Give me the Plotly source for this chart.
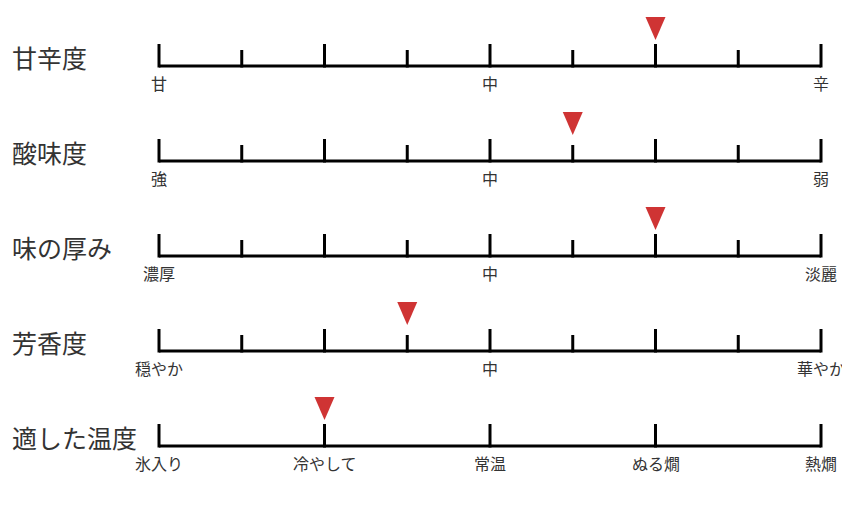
import plotly.graph_objects as go

# ---- data ----
row_titles = ["甘辛度", "酸味度", "味の厚み", "芳香度", "適した温度"]
# tick positions on a 0-8 scale
taste_ticks = [0, 1, 2, 3, 4, 5, 6, 7, 8]
temp_ticks = [0, 2, 4, 6, 8]
tick_labels = [
    {0: "甘", 4: "中", 8: "辛"},
    {0: "強", 4: "中", 8: "弱"},
    {0: "濃厚", 4: "中", 8: "淡麗"},
    {0: "穏やか", 4: "中", 8: "華やか"},
    {0: "氷入り", 2: "冷やして", 4: "常温", 6: "ぬる燗", 8: "熱燗"},
]
marker_values = [6, 5, 6, 3, 2]

# ---- layout constants (pixels, page body has an 8px margin) ----
OFF = 8
W, H = 850 - OFF, 506 - OFF
X0_PX, X1_PX = 159 - OFF, 821 - OFF
ROW0_PX, ROW_STEP = 66 - OFF, 95
px_per_x = (X1_PX - X0_PX) / 8.0
xr = [-X0_PX / px_per_x, (W - X0_PX) / px_per_x]
yr = [(H - ROW0_PX) / ROW_STEP, -ROW0_PX / ROW_STEP]

def dy(px):
    return px / ROW_STEP

def dx(px):
    return px / px_per_x

LINE_W = 3
MAJOR_H, MINOR_H = 22, 16
TRI_W, TRI_TOP, TRI_APEX = 20, 49, 26  # px above baseline
RED = "#cf3434"
TXT = "#333333"
FONT = "Noto Sans CJK JP"

fig = go.Figure()
annotations = []

for i, title in enumerate(row_titles):
    ticks = temp_ticks if i == 4 else taste_ticks
    xs, ys = [0, 8, None], [i, i, None]
    for t in ticks:
        h = MAJOR_H if (i == 4 or t % 2 == 0) else MINOR_H
        xs += [t, t, None]
        ys += [i - dy(h), i + dy(LINE_W / 2), None]
    fig.add_trace(go.Scatter(x=xs, y=ys, mode="lines",
                             line=dict(color="black", width=LINE_W),
                             hoverinfo="skip", showlegend=False))
    v = marker_values[i]
    fig.add_trace(go.Scatter(
        x=[v - dx(TRI_W / 2), v + dx(TRI_W / 2), v, v - dx(TRI_W / 2)],
        y=[i - dy(TRI_TOP), i - dy(TRI_TOP), i - dy(TRI_APEX), i - dy(TRI_TOP)],
        mode="lines", fill="toself", fillcolor=RED, line=dict(width=0, color=RED),
        hoverinfo="skip", showlegend=False))
    annotations.append(dict(x=(10 - OFF) / W, xref="paper", y=i, yref="y", yshift=9,
                            text=title, showarrow=False, xanchor="left",
                            yanchor="middle", font=dict(size=25, color=TXT, family=FONT)))
    for pos, lab in tick_labels[i].items():
        annotations.append(dict(x=pos, xref="x", y=i, yref="y", yshift=-17,
                                text=lab, showarrow=False, xanchor="center",
                                yanchor="middle", font=dict(size=16, color=TXT, family=FONT)))

fig.update_layout(
    width=W, height=H, margin=dict(l=0, r=0, t=0, b=0),
    paper_bgcolor="white", plot_bgcolor="white",
    xaxis=dict(range=xr, visible=False, fixedrange=True),
    yaxis=dict(range=yr, visible=False, fixedrange=True),
    annotations=annotations, showlegend=False,
)
fig.write_html("out.html")
